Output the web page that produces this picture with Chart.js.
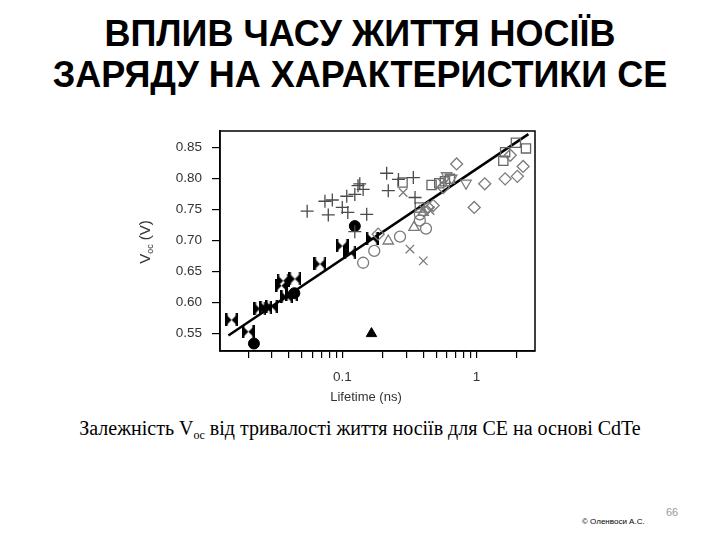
<!DOCTYPE html>
<html>
<head>
<meta charset="utf-8">
<script src="https://cdn.jsdelivr.net/npm/chart.js@4"></script>
<style>
  body { margin: 0; background: #fff; width: 720px; height: 540px; position: relative; overflow: hidden; }
  #title { position: absolute; left: 0; top: 13px; width: 720px; text-align: center;
           font: bold 36px "Liberation Sans", Arial, sans-serif; line-height: 41px; color: #000; }
  #box { position: absolute; left: 130px; top: 123px; width: 420px; height: 287px; }
  #caption { position: absolute; left: 0; top: 417px; width: 720px; text-align: center;
             font: 20px "Liberation Serif", "Times New Roman", serif; color: #000; }
  #caption sub { font-size: 12px; vertical-align: -4px; }
  #author { position: absolute; left: 582px; top: 517px; font: 8px "Liberation Sans", Arial, sans-serif; color: #000; }
  #page { position: absolute; left: 666px; top: 506px; font: 11px "Liberation Sans", Arial, sans-serif; color: #999; }
</style>
</head>
<body>
<div id="title">ВПЛИВ ЧАСУ ЖИТТЯ НОСІЇВ<br>ЗАРЯДУ НА ХАРАКТЕРИСТИКИ СЕ</div>
<div id="box"><canvas id="chart" width="420" height="287"></canvas></div>
<div id="caption">Залежність V<sub>oc</sub> від тривалості життя носіїв для СЕ на основі CdTe</div>
<div id="author">© Оленвоси А.С.</div>
<div id="page">66</div>
<script>
// lifetime (ns) / Voc (V)
const bowX = [0.015, 0.020, 0.0244, 0.027, 0.0298, 0.0353, 0.0363, 0.0444, 0.0386, 0.042, 0.0682, 0.100, 0.114, 0.167];
const bowY = [0.572, 0.553, 0.590, 0.592, 0.593, 0.627, 0.635, 0.638, 0.609, 0.613, 0.662, 0.691, 0.680, 0.703];

const dotX = [0.022, 0.124, 0.044];
const dotY = [0.534, 0.723, 0.615];

const triFilledX = [0.165];
const triFilledY = [0.550];

const plusX = [0.0548, 0.0743, 0.0787, 0.0843, 0.100, 0.108, 0.110, 0.124, 0.131, 0.135, 0.143, 0.152, 0.124, 0.214, 0.220, 0.262, 0.338, 0.348];
const plusY = [0.747, 0.763, 0.741, 0.765, 0.753, 0.771, 0.745, 0.774, 0.788, 0.791, 0.782, 0.742, 0.714, 0.808, 0.780, 0.798, 0.801, 0.769];

const crossX = [0.284, 0.319, 0.401, 0.401, 0.45, 0.55];
const crossY = [0.777, 0.686, 0.667, 0.750, 0.748, 0.793];

const circX = [0.143, 0.173, 0.269, 0.42, 0.378, 0.378];
const circY = [0.664, 0.683, 0.706, 0.719, 0.732, 0.742];

const triUpX = [0.22, 0.342, 0.40];
const triUpY = [0.699, 0.721, 0.745];

const triDownX = [0.834, 0.598, 0.652];
const triDownY = [0.792, 0.804, 0.800];

const diamX = [0.185, 0.436, 0.475, 0.565, 0.71, 0.96, 1.15, 1.63, 2.01, 2.22, 1.78];
const diamY = [0.710, 0.753, 0.756, 0.785, 0.823, 0.753, 0.791, 0.799, 0.803, 0.819, 0.837];

const sqX = [0.462, 0.527, 0.581, 0.633, 1.58, 1.63, 1.96, 2.33, 0.378, 0.281];
const sqY = [0.789, 0.792, 0.795, 0.799, 0.828, 0.842, 0.857, 0.848, 0.753, 0.793];

const fitX = [0.0142, 2.43];
const fitY = [0.547, 0.871];

const xTicks = [0.02, 0.03, 0.04, 0.05, 0.06, 0.07, 0.08, 0.09, 0.1, 0.2, 0.3, 0.4, 0.5, 0.6, 0.7, 0.8, 0.9, 1, 2];
const xLabels = [0.1, 1];
const yTicks = [0.55, 0.60, 0.65, 0.70, 0.75, 0.80, 0.85];

const pts = (xs, ys) => xs.map((x, i) => ({x: x, y: ys[i]}));

// black bowtie marker
const bowtie = document.createElement('canvas');
bowtie.width = 13; bowtie.height = 13;
(function(){
    const c = bowtie.getContext('2d');
    c.fillStyle = '#000';
    c.beginPath();
    c.moveTo(0.5, 0.5); c.lineTo(6.5, 6.5); c.lineTo(0.5, 12.5); c.closePath();
    c.moveTo(12.5, 0.5); c.lineTo(6.5, 6.5); c.lineTo(12.5, 12.5); c.closePath();
    c.fill();
    c.fillRect(0, 0, 2.5, 13);
    c.fillRect(10.5, 0, 2.5, 13);
})();

const frame = {
    id: 'frame',
    afterDraw(chart){
        const c = chart.ctx, a = chart.chartArea;
        c.save();
        c.strokeStyle = '#000';
        c.lineWidth = 1.5;
        c.strokeRect(a.left, a.top, a.right - a.left, a.bottom - a.top);

        c.fillStyle = '#333';
        c.textBaseline = 'middle';
        c.textAlign = 'center';
        c.font = '13px "Liberation Sans", Arial, sans-serif';
        c.fillText('Lifetime (ns)', a.left + 146, a.bottom + 46);

        // V_oc (V), rotated
        c.translate(16, 119);
        c.rotate(-Math.PI / 2);
        c.textAlign = 'left';
        const big = '15px "Liberation Sans", Arial, sans-serif';
        const small = '9px "Liberation Sans", Arial, sans-serif';
        c.font = big; const w1 = c.measureText('V').width;
        c.font = small; const w2 = c.measureText('oc').width;
        c.font = big; const w3 = c.measureText(' (V)').width;
        let x0 = -(w1 + w2 + w3) / 2;
        c.font = big; c.fillText('V', x0, 0);
        c.font = small; c.fillText('oc', x0 + w1, 5);
        c.font = big; c.fillText(' (V)', x0 + w1 + w2, 0);
        c.restore();
    }
};

const gray = '#7a7a7a';
const open = (label, xs, ys, style, color, r, extra) => Object.assign({
    label: label, data: pts(xs, ys), pointStyle: style,
    pointRadius: r, borderColor: color, backgroundColor: 'rgba(0,0,0,0)', pointBorderWidth: 1.3
}, extra || {});

new Chart(document.getElementById('chart'), {
    type: 'scatter',
    data: {
        datasets: [
            open('plus', plusX, plusY, 'cross', '#4a4a4a', 6.5),
            open('cross', crossX, crossY, 'crossRot', gray, 6),
            open('circle', circX, circY, 'circle', gray, 5.5),
            open('triangle', triUpX, triUpY, 'triangle', gray, 6),
            open('triangle down', triDownX, triDownY, 'triangle', gray, 6, {pointRotation: 180}),
            open('diamond', diamX, diamY, 'rectRot', gray, 6),
            open('square', sqX, sqY, 'rect', '#666', 6.5),
            {label: 'bowtie', data: pts(bowX, bowY), pointStyle: bowtie},
            {label: 'dot', data: pts(dotX, dotY), pointStyle: 'circle', pointRadius: 5.5,
             backgroundColor: '#000', borderColor: '#000'},
            {label: 'filled triangle', data: pts(triFilledX, triFilledY), pointStyle: 'triangle', pointRadius: 6,
             backgroundColor: '#000', borderColor: '#000'},
            {label: 'fit', type: 'line', data: pts(fitX, fitY), showLine: true, pointRadius: 0,
             borderColor: '#000', borderWidth: 2.5}
        ]
    },
    options: {
        responsive: false,
        animation: false,
        layout: { padding: { top: 8, right: 15, left: 0, bottom: 0 } },
        plugins: { legend: { display: false }, tooltip: { enabled: false } },
        scales: {
            x: {
                type: 'logarithmic',
                min: 0.0123,
                max: 2.72,
                afterBuildTicks: s => { s.ticks = xTicks.map(v => ({value: v})); },
                afterFit: s => { s.height = 59; s.paddingLeft = 0; s.paddingRight = 0; },
                grid: { drawOnChartArea: false, drawTicks: true, tickLength: 7, color: '#000', lineWidth: 1.2 },
                border: { display: true, color: '#000', width: 1.5 },
                ticks: {
                    autoSkip: false, maxRotation: 0, padding: 11, color: '#333',
                    font: { family: '"Liberation Sans", Arial, sans-serif', size: 13.5 },
                    callback: v => xLabels.find(l => Math.abs(l - v) < 1e-9) !== undefined ? String(v) : ''
                }
            },
            y: {
                min: 0.522,
                max: 0.876,
                afterBuildTicks: s => { s.ticks = yTicks.map(v => ({value: v})); },
                afterFit: s => { s.width = 90; s.paddingTop = 0; s.paddingBottom = 0; },
                grid: { drawOnChartArea: false, drawTicks: true, tickLength: 8, color: '#000', lineWidth: 1.2 },
                border: { display: true, color: '#000', width: 1.5 },
                ticks: {
                    padding: 10, color: '#333',
                    font: { family: '"Liberation Sans", Arial, sans-serif', size: 13.5 },
                    callback: v => v.toFixed(2)
                }
            }
        }
    },
    plugins: [frame]
});
</script>
</body>
</html>
